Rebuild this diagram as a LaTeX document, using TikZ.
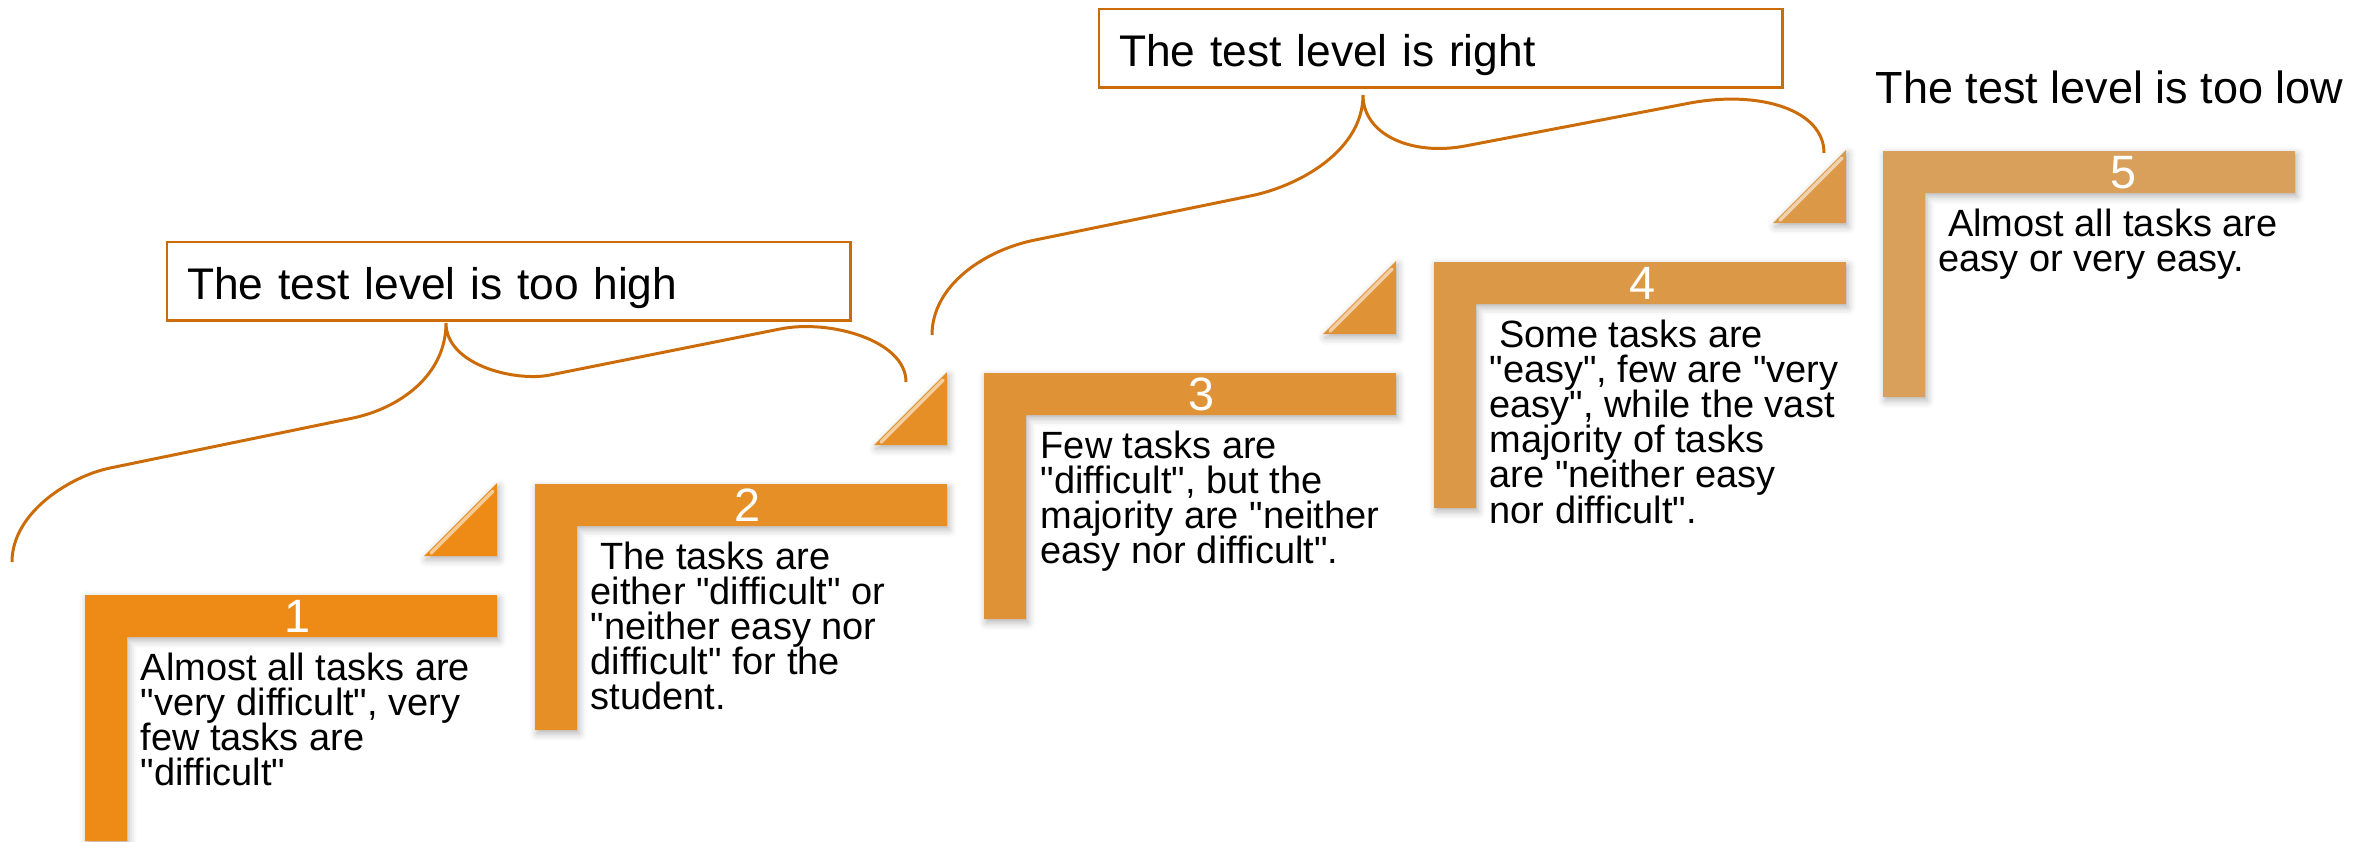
\documentclass[tikz,border=0pt]{standalone}
\usepackage{fontspec}
\setmainfont{Liberation Sans}[Ligatures=TeXOff]
\usetikzlibrary{positioning}
\usetikzlibrary{shadows.blur}

\definecolor{braceorange}{RGB}{204,108,8}
\definecolor{tone1}{RGB}{238,139,22}
\definecolor{tone2}{RGB}{229,143,38}
\definecolor{tone3}{RGB}{224,147,54}
\definecolor{tone4}{RGB}{219,152,70}
\definecolor{tone5}{RGB}{216,160,90}

% tight leading for the step descriptions
\newcommand{\tightlines}{\lineskiplimit=-100pt\relax}

\tikzset{
        % L-shaped stairs and the small wedges
        stair_shape/.style={blur shadow={shadow xshift=0.6pt, shadow yshift=-1pt, shadow opacity=30, shadow blur steps=4}},
        % light edge on a wedge
        stair_glint/.style={line width=1pt, line cap=round},
        % step number on the bar
        stair_num/.style={text=white, inner sep=0pt, anchor=base, font=\fontsize{13.3}{14}\selectfont},
        % description under the bar
        stair_text/.style={align=left, inner sep=0pt, anchor=north west,
            font=\fontsize{10.8}{10}\selectfont\tightlines},
        % level labels
        level_box/.style={draw=braceorange, line width=0.7pt, anchor=north west, align=left,
            font=\fontsize{12.6}{14}\selectfont, minimum width=6.83cm, minimum height=0.78cm,
            text width=6.43cm, inner xsep=0.2cm, inner ysep=0pt, text height=0.44cm, text depth=0.08cm},
        level_plain/.style={anchor=base west, inner sep=0pt, font=\fontsize{12.8}{14}\selectfont},
        brace_line/.style={draw=braceorange, line width=0.85pt}
}

\begin{document}
\begin{tikzpicture}[x=0.01cm, y=-0.01cm]
\useasboundingbox (0,0) rectangle (2369,841);

% the five stairs
\foreach \n/\sx/\sy/\nx in {1/85/595/213, 2/535/484/212, 3/984/373/217, 4/1434/262/208, 5/1883/151/240} {
    \begin{scope}[shift={(\sx,\sy)}]
        \fill[stair_shape, fill=tone\n] (0,0) -- (412,0) -- (412,42) -- (42,42) -- (42,246) -- (0,246) -- cycle;
        \node[stair_num] (num\n) at (\nx,37) {\n};
    \end{scope}
}

% wedges above steps 1-4
\foreach \n/\sx/\sy in {1/85/595, 2/535/484, 3/984/373, 4/1434/262} {
    \begin{scope}[shift={(\sx,\sy)}]
        \fill[stair_shape, fill=tone\n] (339,-39) -- (412,-39) -- (412,-112) -- cycle;
        \draw[stair_glint, draw=tone\n!45!white] (346,-42) -- (408,-104);
    \end{scope}
}

% descriptions
\node[stair_text] (desc1) at (140,652) {Almost all tasks are\\"very difficult", very\\few tasks are\\"difficult"};
\node[stair_text] (desc2) at (590,541) {\hspace*{0.25em}The tasks are\\either "difficult" or\\"neither easy nor\\difficult" for the\\student.};
\node[stair_text] (desc3) at (1040,430) {Few tasks are\\"difficult", but the\\majority are "neither\\easy nor difficult".};
\node[stair_text] (desc4) at (1489,319) {\hspace*{0.25em}Some tasks are\\"easy", few are "very\\easy", while the vast\\majority of tasks\\are "neither easy\\nor difficult".};
\node[stair_text] (desc5) at (1938,208) {\hspace*{0.25em}Almost all tasks are\\easy or very easy.};

% level labels
\node[level_box] (too_high) at (166,241) {The test level is too high};
\node[level_box] (just_right) at (1098,8) {The test level is right};
\node[level_plain] (too_low) at (1875,103) {The test level is too low};

% braces under the framed labels
\coordinate (high_tip) at (446,323);
\coordinate (right_tip) at (1363,95);
\draw[brace_line] (12,562) .. controls (12,512) and (71,476) .. (110,468) -- (353,418)
    .. controls (400,408) and (446,375) .. (high_tip)
    .. controls (446,365) and (515,382) .. (550,375) -- (780,329)
    .. controls (829,319) and (906,340) .. (906,382);
\draw[brace_line] (932,335) .. controls (932,285) and (985,250) .. (1035,240) -- (1250,196)
    .. controls (1300,186) and (1363,150) .. (right_tip)
    .. controls (1363,135) and (1412,156) .. (1465,146) -- (1690,103)
    .. controls (1760,90) and (1824,110) .. (1824,153);
\end{tikzpicture}
\end{document}
